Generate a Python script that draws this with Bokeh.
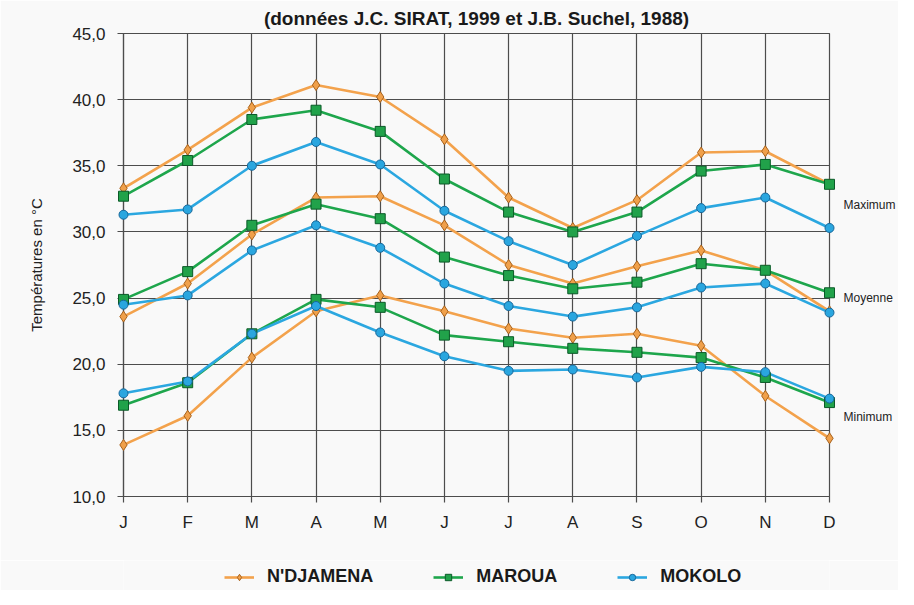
from bokeh.plotting import figure
from bokeh.layouts import column
from bokeh.models import Range1d, FixedTicker, Legend, LegendItem, LinearAxis
from bokeh.embed import file_html
from bokeh.resources import INLINE

months = ["J", "F", "M", "A", "M", "J", "J", "A", "S", "O", "N", "D"]
x = list(range(12))

ndjamena_max = [33.3, 36.2, 39.4, 41.1, 40.2, 37.0, 32.6, 30.3, 32.4, 36.0, 36.1, 33.6]
ndjamena_moy = [23.6, 26.1, 29.8, 32.6, 32.7, 30.5, 27.5, 26.1, 27.4, 28.6, 27.1, 24.0]
ndjamena_min = [13.9, 16.1, 20.5, 24.0, 25.2, 24.0, 22.7, 22.0, 22.3, 21.4, 17.6, 14.4]

maroua_max = [32.7, 35.4, 38.5, 39.2, 37.6, 34.0, 31.5, 30.0, 31.5, 34.6, 35.1, 33.6]
maroua_moy = [24.9, 27.0, 30.5, 32.1, 31.0, 28.1, 26.7, 25.7, 26.2, 27.6, 27.1, 25.4]
maroua_min = [16.9, 18.6, 22.3, 24.9, 24.3, 22.2, 21.7, 21.2, 20.9, 20.5, 19.0, 17.1]

mokolo_max = [31.3, 31.7, 35.0, 36.8, 35.1, 31.6, 29.3, 27.5, 29.7, 31.8, 32.6, 30.3]
mokolo_moy = [24.5, 25.2, 28.6, 30.5, 28.8, 26.1, 24.4, 23.6, 24.3, 25.8, 26.1, 23.9]
mokolo_min = [17.8, 18.7, 22.3, 24.4, 22.4, 20.6, 19.5, 19.6, 19.0, 19.8, 19.4, 17.4]

y_ticks = [10, 15, 20, 25, 30, 35, 40, 45]
y_tick_labels = ["10,0", "15,0", "20,0", "25,0", "30,0", "35,0", "40,0", "45,0"]

series_names = ["N'DJAMENA", "MAROUA", "MOKOLO"]
title_text = "(données J.C. SIRAT, 1999 et J.B. Suchel, 1988)"
y_label = "Températures en °C"
side_labels = ["Maximum", "Moyenne", "Minimum"]
side_label_y = [32, 25, 16]

FONT = "Liberation Sans"
GRID = "#4d4d4d"
BG = "#f9f9f9"
TXT = "#222222"

p = figure(width=898, height=560, output_backend="svg", toolbar_location=None,
           x_range=Range1d(0, 11), y_range=Range1d(10, 45),
           min_border_left=123, min_border_top=33, min_border_right=60, min_border_bottom=64)
p.background_fill_color = BG
p.border_fill_color = BG
p.outline_line_color = GRID
p.outline_line_width = 1.2

p.title.text = title_text
p.title.align = "center"
p.title.text_font = FONT
p.title.text_font_size = "19px"
p.title.text_font_style = "bold"
p.title.text_color = "#1a1a1a"
p.title.standoff = 9

p.xaxis.ticker = FixedTicker(ticks=x)
p.xaxis.major_label_overrides = {i: m for i, m in enumerate(months)}
p.yaxis.ticker = FixedTicker(ticks=y_ticks)
p.yaxis.major_label_overrides = {t: l for t, l in zip(y_ticks, y_tick_labels)}
for ax in (p.xaxis, p.yaxis):
    ax.axis_line_color = GRID
    ax.axis_line_width = 1.2
    ax.major_tick_line_color = GRID
    ax.major_tick_line_width = 1.2
    ax.major_tick_out = 6
    ax.major_tick_in = 0
    ax.minor_tick_line_color = None
    ax.major_label_text_font = FONT
    ax.major_label_text_font_size = "17px"
    ax.major_label_text_color = TXT
p.xaxis.major_label_standoff = 10
p.yaxis.major_label_standoff = 12
p.yaxis.axis_label = y_label
p.yaxis.axis_label_text_font = FONT
p.yaxis.axis_label_text_font_style = "normal"
p.yaxis.axis_label_text_font_size = "15px"
p.yaxis.axis_label_text_color = TXT
p.yaxis.axis_label_standoff = 24

# right-hand labels (Maximum / Moyenne / Minimum)
side_axis = LinearAxis(ticker=FixedTicker(ticks=side_label_y),
                       major_label_overrides={t: s for t, s in zip(side_label_y, side_labels)},
                       axis_line_color=None, major_tick_line_color=None,
                       minor_tick_line_color=None, major_label_standoff=8,
                       major_label_text_font=FONT, major_label_text_font_size="12px",
                       major_label_text_color=TXT)
p.add_layout(side_axis, "right")

p.xgrid.ticker = FixedTicker(ticks=x)
p.ygrid.ticker = FixedTicker(ticks=y_ticks)
p.grid.grid_line_color = GRID
p.grid.grid_line_width = 1.2

styles = [
    dict(line="#f3a24c", fill="#f0a04a", edge="#a8621c", marker="diamond", size=11),
    dict(line="#1ea64c", fill="#21a24a", edge="#0b5a28", marker="square", size=10),
    dict(line="#2ba7e0", fill="#2aa6df", edge="#17679a", marker="circle", size=9),
]
data = [
    [ndjamena_max, ndjamena_moy, ndjamena_min],
    [maroua_max, maroua_moy, maroua_min],
    [mokolo_max, mokolo_moy, mokolo_min],
]

for st, groups in zip(styles, data):
    for vals in groups:
        p.line(x, vals, line_color=st["line"], line_width=2.6)
        mk = p.scatter(x, vals, marker=st["marker"], size=st["size"],
                       fill_color=st["fill"], line_color=st["edge"], line_width=1)
        mk.level = "overlay"

# legend strip underneath (its sample renderers lie outside its own ranges)
pl = figure(width=898, height=30, output_backend="svg", toolbar_location=None,
            x_range=Range1d(0, 1), y_range=Range1d(0, 1), min_border=0)
pl.axis.visible = False
pl.grid.visible = False
pl.outline_line_color = None
pl.background_fill_color = BG
pl.border_fill_color = BG
items = []
for name, st, groups in zip(series_names, styles, data):
    ln = pl.line(x, groups[0], line_color=st["line"], line_width=2.6)
    mk = pl.scatter(x, groups[0], marker=st["marker"], size=st["size"] - 2,
                    fill_color=st["fill"], line_color=st["edge"], line_width=1)
    items.append(LegendItem(label=name, renderers=[ln, mk]))
legend = Legend(items=items, orientation="horizontal", location=(101, 3),
                glyph_width=30, glyph_height=16, label_standoff=13, spacing=60,
                padding=4, margin=0,
                label_text_font=FONT, label_text_font_size="18px",
                label_text_font_style="bold", label_text_color="#1a1a1a",
                background_fill_alpha=0, border_line_color=None)
pl.add_layout(legend, "center")

layout = column(p, pl, spacing=0)
open("out.html", "w").write(file_html(layout, INLINE))
